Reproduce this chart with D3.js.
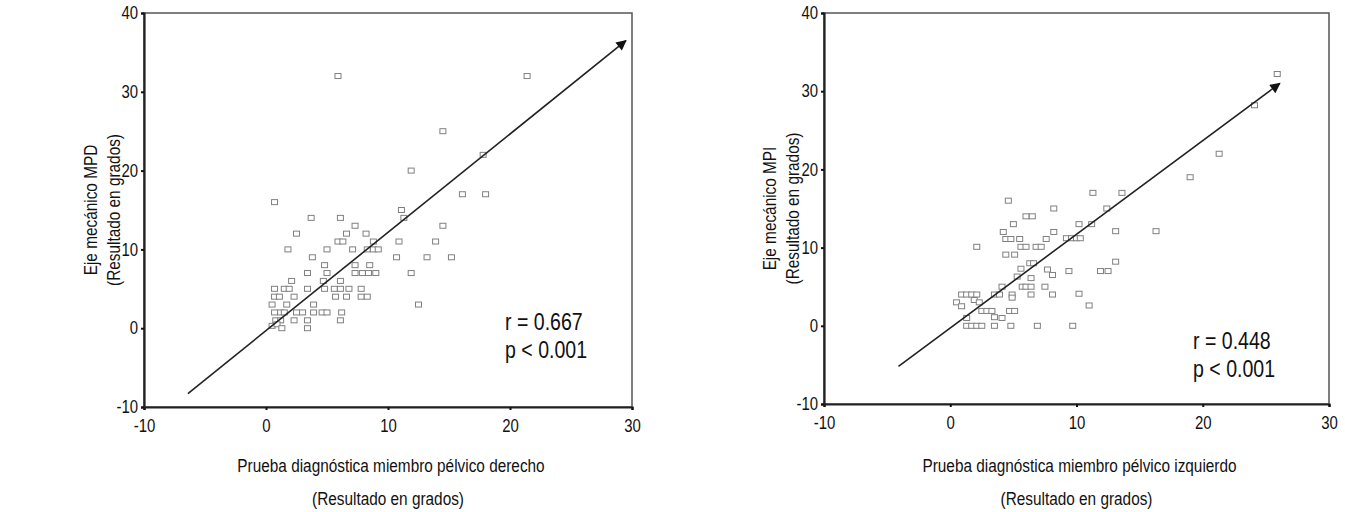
<!DOCTYPE html>
<html>
<head>
<meta charset="utf-8">
<script src="https://cdn.jsdelivr.net/npm/d3@7/dist/d3.min.js"></script>
<style>
  body { margin: 0; background: #fff; }
  svg text { font-family: "Liberation Sans", Arial, sans-serif; fill: #111; }
</style>
</head>
<body>
<svg id="chart" width="1345" height="512"></svg>
<script>
// tick labels shared by both panels
const xTicks = [-10, 0, 10, 20, 30];
const yTicks = [-10, 0, 10, 20, 30, 40];

// right leg (MPD)
const derechoX = [5.9, 21.4, 0.7, 14.5, 11.9, 16.1, 18, 17.8, 11.1, 11.3, 14.5, 10.9, 13.9, 10.7, 13.2, 15.2, 11.9, 12.5,
  3.7, 6.1, 7.3, 2.5, 6.6, 8.2, 5.9, 6.3, 8.8, 1.8, 5.0, 7.1, 8.3, 8.8, 9.2, 3.8, 4.8, 7.3, 8.5, 3.4, 5.0, 7.3, 7.9, 8.4, 9.0,
  2.1, 4.7, 6.1, 0.7, 1.5, 1.9, 3.4, 4.8, 5.6, 6.1, 6.8, 7.8, 0.7, 1.1, 2.3, 5.7, 6.6, 7.8, 8.3, 0.5, 1.7, 3.9,
  0.7, 1.2, 1.5, 2.5, 3.0, 3.9, 4.6, 5.0, 6.2, 0.8, 1.2, 2.3, 3.4, 6.1, 0.5, 0.9, 1.3, 3.4];
const derechoY = [32, 32, 16, 25, 20, 17, 17, 22, 15, 14, 13, 11, 11, 9, 9, 9, 7, 3,
  14, 14, 13, 12, 12, 12, 11, 11, 11, 10, 10, 10, 10, 10, 10, 9, 8, 8, 8, 7, 7, 7, 7, 7, 7,
  6, 6, 6, 5, 5, 5, 5, 5, 5, 5, 5, 5, 4, 4, 4, 4, 4, 4, 4, 3, 3, 3,
  2, 2, 2, 2, 2, 2, 2, 2, 2, 1, 1, 1, 1, 1, 0.3, 0.5, 0, 0];

// left leg (MPI)
const izquierdoX = [25.9, 24.1, 21.3, 19, 11.3, 13.6, 4.6, 8.2, 12.4, 10.2, 11.2, 9.2, 9.6, 10, 10.3, 13.1, 16.3, 9.4, 11.9, 12.5, 13.1, 10.2, 11, 9.7,
  6.0, 6.5, 5.0, 4.2, 8.2, 4.4, 4.8, 5.5, 7.6, 2.1, 5.6, 6.0, 6.8, 7.2, 4.4, 5.1, 6.3, 6.6, 5.6, 7.7,
  8.1, 5.3, 6.4, 5.7, 6.0, 6.4, 7.5, 4.1, 4.9, 4.9, 6.4, 8.1, 0.9, 1.3, 1.7, 2.1, 0.5, 0.9, 1.9, 2.3, 3.5, 3.9,
  2.5, 2.9, 3.3, 4.7, 5.1, 3.5, 4.1, 1.3, 1.3, 1.7, 2.1, 2.5, 3.5, 4.8, 6.9];
const izquierdoY = [32.2, 28.2, 22, 19, 17, 17, 16, 15, 15, 13, 13, 11.2, 11.2, 11.2, 11.2, 12.1, 12.1, 7, 7, 7, 8.2, 4.1, 2.6, 0,
  14, 14, 13, 12, 12, 11.1, 11.1, 11.1, 11.1, 10.1, 10.1, 10.1, 10.1, 10.1, 9.1, 9.1, 8, 8, 7.3, 7.2,
  6.5, 6.3, 6.1, 5, 5, 5, 5, 5, 4, 3.6, 4, 4, 4, 4, 4, 4, 3, 2.5, 3.3, 3, 4, 4,
  1.9, 1.9, 1.9, 1.9, 1.9, 1.1, 1, 1, 0, 0, 0, 0, 0, 0, 0];

// fitted line ends [x0, y0, x1, y1]
const derechoFit = [-6.4, -8.3, 29.5, 36.5];
const izquierdoFit = [-4.1, -5.2, 26.1, 31.0];

const panels = [
  { xs: derechoX, ys: derechoY, fit: derechoFit, box: [144, 632, 13, 407],
    yLabel: ["Eje mecánico MPD", "(Resultado en grados)"], yLabelX: 92,
    xLabel: ["Prueba diagnóstica miembro pélvico derecho", "(Resultado en grados)"],
    stats: ["r = 0.667", "p < 0.001"], statPos: [505, 330] },
  { xs: izquierdoX, ys: izquierdoY, fit: izquierdoFit, box: [824, 1329, 13, 404],
    yLabel: ["Eje mecánico MPI", "(Resultado en grados)"], yLabelX: 771,
    xLabel: ["Prueba diagnóstica miembro pélvico izquierdo", "(Resultado en grados)"],
    stats: ["r = 0.448", "p < 0.001"], statPos: [1193, 349] }
];

// the original typeface is a condensed grotesque, so squeeze the text horizontally
const squeeze = 0.83;

const svg = d3.select("#chart");
const defs = svg.append("defs");
defs.append("marker")
  .attr("id", "arrow")
  .attr("viewBox", "0 0 10 10")
  .attr("refX", 9).attr("refY", 5)
  .attr("markerWidth", 8).attr("markerHeight", 6.5)
  .attr("markerUnits", "strokeWidth")
  .attr("orient", "auto")
  .append("path")
  .attr("d", "M0,0 L10,5 L0,10 Z")
  .attr("fill", "#111");

panels.forEach(p => {
  const [left, right, top, bottom] = p.box;
  const x = d3.scaleLinear().domain([-10, 30]).range([left, right]);
  const y = d3.scaleLinear().domain([-10, 40]).range([bottom, top]);
  const g = svg.append("g");

  // frame
  g.append("rect")
    .attr("x", left).attr("y", top)
    .attr("width", right - left).attr("height", bottom - top)
    .attr("fill", "none").attr("stroke", "#555").attr("stroke-width", 1.5);

  const xAxis = g.append("g")
    .attr("transform", "translate(0," + bottom + ")")
    .call(d3.axisBottom(x).tickValues(xTicks).tickFormat(d => String(d)).tickSize(3).tickPadding(9));
  xAxis.select(".domain").attr("stroke", "#222").attr("stroke-width", 2.2);
  xAxis.selectAll(".tick line").attr("stroke", "#111").attr("stroke-width", 2);
  xAxis.selectAll("text")
    .style("font-size", "18px").attr("fill", "#111")
    .attr("transform", "scale(" + squeeze + ",1)");

  const yAxis = g.append("g")
    .attr("transform", "translate(" + left + ",0)")
    .call(d3.axisLeft(y).tickValues(yTicks).tickFormat(d => String(d)).tickSize(3));
  yAxis.select(".domain").attr("stroke", "#222").attr("stroke-width", 2.2);
  yAxis.selectAll(".tick line").attr("stroke", "#111").attr("stroke-width", 2);
  yAxis.selectAll("text")
    .style("font-size", "18px").attr("fill", "#111")
    .attr("x", -6 / squeeze)
    .attr("transform", "scale(" + squeeze + ",1)");

  // points
  g.selectAll(".pt")
    .data(p.xs.map((v, i) => [v, p.ys[i]]))
    .enter()
    .append("rect")
    .attr("class", "pt")
    .attr("x", d => x(d[0]) - 3)
    .attr("y", d => y(d[1]) - 2.5)
    .attr("width", 6).attr("height", 5)
    .attr("fill", "#fff")
    .attr("stroke", "#808080")
    .attr("stroke-width", 1);

  // regression arrow
  g.append("line")
    .attr("x1", x(p.fit[0])).attr("y1", y(p.fit[1]))
    .attr("x2", x(p.fit[2])).attr("y2", y(p.fit[3]))
    .attr("stroke", "#222").attr("stroke-width", 1.6)
    .attr("marker-end", "url(#arrow)");

  // stats
  p.stats.forEach((t, i) => {
    g.append("text")
      .attr("transform", "translate(" + p.statPos[0] + "," + (p.statPos[1] + i * 28) + ") scale(0.85,1)")
      .style("font-size", "23px")
      .text(t);
  });

  // axis titles
  const cy = (top + bottom) / 2;
  p.yLabel.forEach((t, i) => {
    g.append("text")
      .attr("transform", "translate(" + (p.yLabelX + i * 23) + "," + cy + ") rotate(-90) scale(" + squeeze + ",1)")
      .attr("text-anchor", "middle")
      .attr("dominant-baseline", "middle")
      .style("font-size", "18.5px")
      .text(t);
  });
  const cx = (left + right) / 2;
  p.xLabel.forEach((t, i) => {
    g.append("text")
      .attr("transform", "translate(" + (cx + (i === 0 ? 3 : 0)) + "," + (472 + i * 33) + ") scale(" + squeeze + ",1)")
      .attr("text-anchor", "middle")
      .style("font-size", "18.5px")
      .text(t);
  });
});
</script>
</body>
</html>
